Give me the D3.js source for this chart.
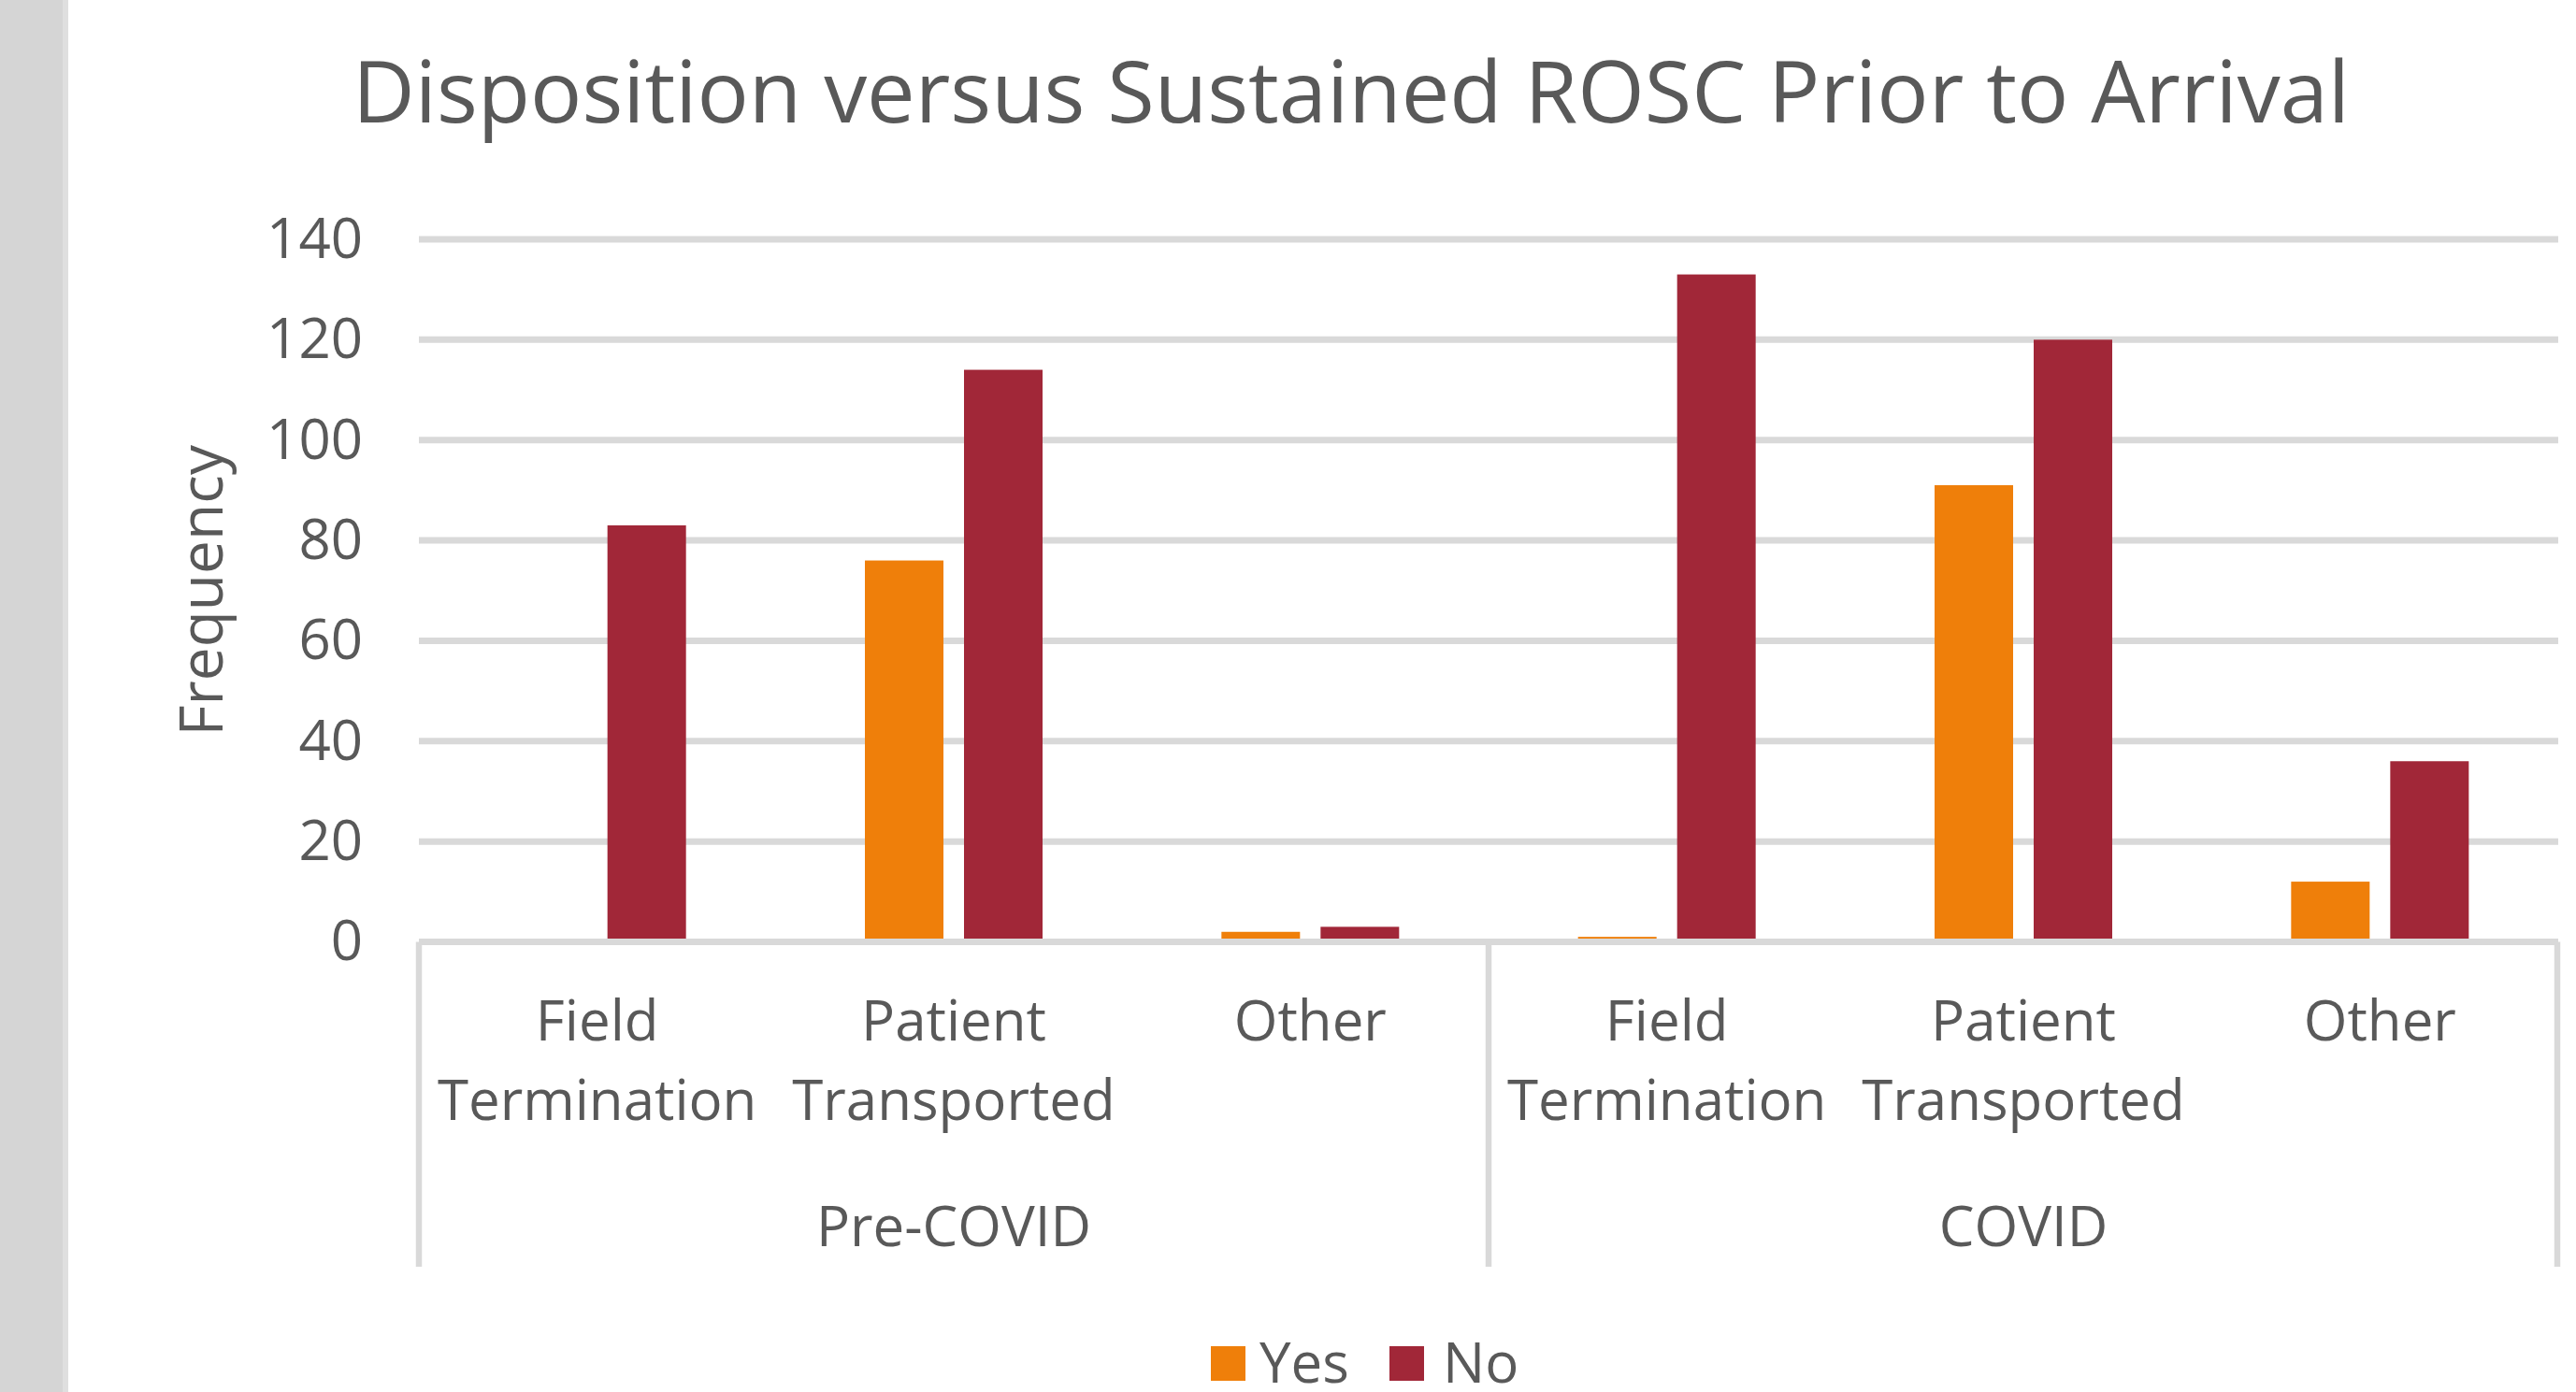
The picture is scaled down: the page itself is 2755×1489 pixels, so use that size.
<!DOCTYPE html>
<html>
<head>
<meta charset="utf-8">
<script src="https://cdn.jsdelivr.net/npm/d3@7"></script>
<style>
  html, body { margin: 0; padding: 0; background: #ffffff; }
  svg { display: block; }
  text { font-family: "Open Sans", "Noto Sans", sans-serif; fill: #595959; }
</style>
</head>
<body>
<svg id="chart" width="2755" height="1489"></svg>
<script>
// ---- data ----
const groups = ["Pre-COVID", "COVID"];
const categories = ["Field Termination", "Patient Transported", "Other"];
const categoryLines = [["Field", "Termination"], ["Patient", "Transported"], ["Other"]];
const seriesNames = ["Yes", "No"];
const preCovidYes = [0, 76, 2];
const preCovidNo = [83, 114, 3];
const covidYes = [1, 91, 12];
const covidNo = [133, 120, 36];
const yTicks = [0, 20, 40, 60, 80, 100, 120, 140];
const titleText = "Disposition versus Sustained ROSC Prior to Arrival";
const yAxisTitle = "Frequency";
const colors = { Yes: "#ef7f0a", No: "#a12738" };

// ---- build table ----
const valuesByGroup = { "Pre-COVID": { Yes: preCovidYes, No: preCovidNo }, "COVID": { Yes: covidYes, No: covidNo } };
const slots = [];
groups.forEach(g => categories.forEach((c, i) => slots.push({ key: g + "|" + c, group: g, cat: c, idx: i })));
const bars = [];
slots.forEach(s => seriesNames.forEach(sn => bars.push({ slot: s.key, series: sn, value: valuesByGroup[s.group][sn][s.idx] })));

const svg = d3.select("#chart");

// left grey strip
svg.append("rect").attr("x", 0).attr("y", 0).attr("width", 67).attr("height", 1489).attr("fill", "#d5d5d5");
svg.append("rect").attr("x", 67).attr("y", 0).attr("width", 6).attr("height", 1489).attr("fill", "#dfdfdf");

const plotLeft = 448, plotRight = 2736;
const y = d3.scaleLinear().domain([0, 140]).range([1007.5, 256]);
const x0 = d3.scaleBand().domain(slots.map(s => s.key)).range([plotLeft, plotRight]).paddingInner(0).paddingOuter(0);
const bw = x0.bandwidth();
const x1 = d3.scaleBand().domain(seriesNames).range([bw / 2 - 95, bw / 2 + 95]).paddingInner(0.2075).paddingOuter(0);

// gridlines
const gridColor = "#d9d9d9";
svg.append("g").selectAll("line").data(yTicks.filter(t => t > 0)).join("line")
  .attr("x1", plotLeft).attr("x2", plotRight)
  .attr("y1", d => y(d)).attr("y2", d => y(d))
  .attr("stroke", gridColor).attr("stroke-width", 7);

// bars
svg.append("g").selectAll("rect").data(bars).join("rect")
  .attr("x", d => x0(d.slot) + x1(d.series))
  .attr("width", x1.bandwidth())
  .attr("y", d => y(d.value))
  .attr("height", d => y(0) - y(d.value))
  .attr("fill", d => colors[d.series]);

// baseline
svg.append("line").attr("x1", plotLeft).attr("x2", plotRight)
  .attr("y1", y(0)).attr("y2", y(0)).attr("stroke", gridColor).attr("stroke-width", 7);

// group separators
const sepBottom = 1355;
const sepXs = [plotLeft, x0(groups[1] + "|" + categories[0]), plotRight - 1];
svg.append("g").selectAll("line").data(sepXs).join("line")
  .attr("x1", d => d).attr("x2", d => d)
  .attr("y1", y(0)).attr("y2", sepBottom)
  .attr("stroke", gridColor).attr("stroke-width", 6.5);

// y tick labels
svg.append("g").selectAll("text").data(yTicks).join("text")
  .attr("x", 388).attr("y", d => y(d)).attr("dy", "0.33em")
  .attr("text-anchor", "end").attr("font-size", 60)
  .text(d => d);

// category labels
const catG = svg.append("g");
slots.forEach(s => {
  const cx = x0(s.key) + bw / 2;
  const t = catG.append("text").attr("text-anchor", "middle").attr("font-size", 60);
  categoryLines[s.idx].forEach((ln, j) => {
    t.append("tspan").attr("x", cx).attr("y", 1113 + j * 85).text(ln);
  });
});

// group labels
svg.append("g").selectAll("text").data(groups).join("text")
  .attr("x", g => {
    const first = x0(g + "|" + categories[0]);
    const last = x0(g + "|" + categories[categories.length - 1]) + bw;
    return (first + last) / 2;
  })
  .attr("y", 1333).attr("text-anchor", "middle").attr("font-size", 60)
  .text(g => g);

// title
svg.append("text").attr("x", 1445).attr("y", 131).attr("text-anchor", "middle")
  .attr("font-size", 92).text(titleText);

// y axis title
svg.append("text").attr("transform", "translate(238," + ((y(0) + y(140)) / 2) + ") rotate(-90)")
  .attr("text-anchor", "middle").attr("font-size", 64).text(yAxisTitle);

// legend
const legendItems = [{ name: "Yes", sx: 1295, tx: 1347 }, { name: "No", sx: 1486, tx: 1543 }];
const lg = svg.append("g");
lg.selectAll("rect").data(legendItems).join("rect")
  .attr("x", d => d.sx).attr("y", 1440).attr("width", 37).attr("height", 37)
  .attr("fill", d => colors[d.name]);
lg.selectAll("text").data(legendItems).join("text")
  .attr("x", d => d.tx).attr("y", 1479).attr("font-size", 60)
  .text(d => d.name);
</script>
</body>
</html>
